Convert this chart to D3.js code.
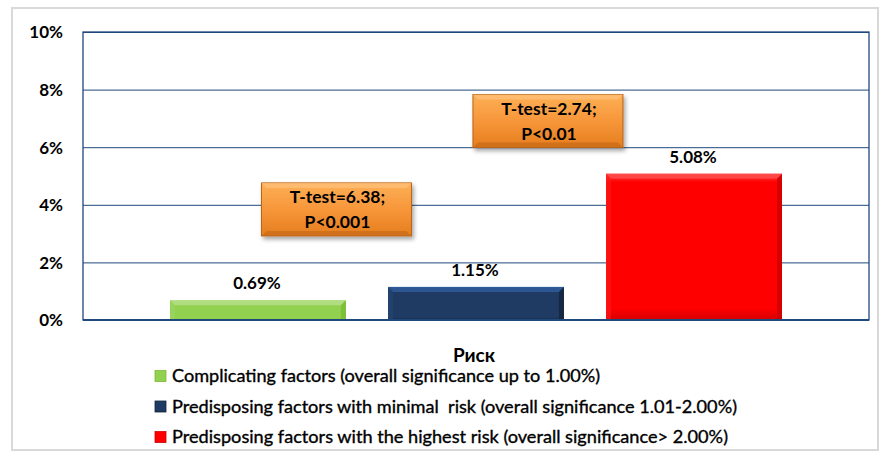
<!DOCTYPE html>
<html><head><meta charset="utf-8">
<script src="https://cdn.jsdelivr.net/npm/d3@7"></script>
<style>
body{margin:0;background:#fff;}
svg{display:block;font-family:Lato,"Open Sans",sans-serif;}
</style></head>
<body>
<svg id="chart" width="890" height="463"></svg>
<script>
const category = "Риск";
const series = [
  "Complicating factors (overall significance up to 1.00%)",
  "Predisposing factors with minimal  risk (overall significance 1.01-2.00%)",
  "Predisposing factors with the highest risk (overall significance> 2.00%)"
];
const values = [0.69, 1.15, 5.08];
const valueLabels = ["0.69%", "1.15%", "5.08%"];
const colors = ["#92D050", "#1F3B63", "#FF0000"];
const yTicks = [0, 2, 4, 6, 8, 10];
const annotationLines = [["T-test=6.38;", "P<0.001"], ["T-test=2.74;", "P<0.01"]];
const annotationLevel = [3.84, 6.91];      // vertical centre, in % units
const annotationBetween = [[0, 1], [1, 2]]; // between which bars
const annotationFrac = [0.36, 0.33];        // fraction of the way from first bar to second

const svg = d3.select("#chart");
const m = {left: 83, right: 869, top: 32, bottom: 320};

svg.append("rect").attr("x", 12).attr("y", 8).attr("width", 866).attr("height", 442)
  .attr("fill", "#fff").attr("stroke", "#d9d9d9").attr("stroke-width", 2);

const defs = svg.append("defs");
function shade(c, k){ const h = d3.hsl(c); h.l = Math.max(0, Math.min(1, h.l + k)); return h.formatHex(); }
colors.forEach((c, i) => {
  const g = defs.append("linearGradient").attr("id", "g" + i).attr("x1", 0).attr("y1", 0).attr("x2", 0).attr("y2", 1);
  g.append("stop").attr("offset", 0).attr("stop-color", shade(c, 0.12));
  g.append("stop").attr("offset", 0.06).attr("stop-color", c);
  g.append("stop").attr("offset", 0.92).attr("stop-color", c);
  g.append("stop").attr("offset", 1).attr("stop-color", shade(c, -0.08));
});
const og = defs.append("linearGradient").attr("id", "og").attr("x1", 0).attr("y1", 0).attr("x2", 0).attr("y2", 1);
og.append("stop").attr("offset", 0).attr("stop-color", "#FDB057");
og.append("stop").attr("offset", 0.5).attr("stop-color", "#F7963A");
og.append("stop").attr("offset", 1).attr("stop-color", "#E57E1E");
const sh = defs.append("filter").attr("id", "sh").attr("x", "-10%").attr("y", "-10%").attr("width", "130%").attr("height", "140%");
sh.append("feDropShadow").attr("dx", 2).attr("dy", 3).attr("stdDeviation", 2).attr("flood-color", "#000").attr("flood-opacity", 0.35);

const y = d3.scaleLinear().domain([0, 10]).range([m.bottom, m.top]);
const x0 = d3.scaleBand().domain([category]).range([m.left, m.right]).paddingOuter(0);
const x1 = d3.scaleBand().domain(series).range([x0(category) + 87, x0(category) + x0.bandwidth() - 87]).paddingInner(0.193);

svg.append("g").attr("transform", `translate(${m.left},0)`)
  .call(d3.axisLeft(y).tickValues(yTicks).tickSize(-(m.right - m.left)).tickFormat(""))
  .call(g => g.select(".domain").remove())
  .call(g => g.selectAll("line").attr("stroke", "#1F497D").attr("stroke-width", 1));
svg.append("rect").attr("x", m.left).attr("y", m.top).attr("width", m.right - m.left).attr("height", m.bottom - m.top)
  .attr("fill", "none").attr("stroke", "#1F497D").attr("stroke-width", 1.3);

svg.append("g").attr("transform", `translate(${m.left - 20},0)`)
  .call(d3.axisLeft(y).tickValues(yTicks).tickSize(0).tickFormat(d => d + "%"))
  .call(g => g.select(".domain").remove())
  .call(g => g.selectAll("text").attr("font-family", "Lato, sans-serif").attr("font-size", 17)
    .attr("font-weight", "bold").attr("fill", "#000").attr("x", 0).attr("dy", "0.35em"));

const bars = svg.append("g");
series.forEach((s, i) => {
  const bx = x1(s), bw = x1.bandwidth(), by = y(values[i]), bh = y(0) - y(values[i]);
  bars.append("rect").attr("x", bx).attr("y", by).attr("width", bw).attr("height", bh).attr("fill", `url(#g${i})`);
  const e = Math.min(5, bh / 3);
  bars.append("path").attr("d", `M${bx},${by}L${bx + bw},${by}L${bx + bw - e},${by + e}L${bx + e},${by + e}Z`).attr("fill", shade(colors[i], 0.15)).attr("opacity", 0.8);
  bars.append("path").attr("d", `M${bx + bw},${by}L${bx + bw},${by + bh}L${bx + bw - e},${by + bh}L${bx + bw - e},${by + e}Z`).attr("fill", shade(colors[i], -0.1)).attr("opacity", 0.8);
  bars.append("path").attr("d", `M${bx},${by}L${bx + e},${by + e}L${bx + e},${by + bh}L${bx},${by + bh}Z`).attr("fill", shade(colors[i], 0.05)).attr("opacity", 0.6);
  svg.append("text").attr("x", bx + bw / 2 - 1).attr("y", by - 17).attr("text-anchor", "middle")
    .attr("dy", "0.35em").attr("font-size", 17).attr("font-weight", "bold").attr("fill", "#000").text(valueLabels[i]);
});
svg.append("line").attr("x1", m.left).attr("x2", m.right).attr("y1", y(0)).attr("y2", y(0)).attr("stroke", "#1F497D").attr("stroke-width", 2);

annotationLines.forEach((lines, j) => {
  const [a, b] = annotationBetween[j];
  const ca = x1(series[a]) + x1.bandwidth() / 2, cb = x1(series[b]) + x1.bandwidth() / 2;
  const cx = ca + (cb - ca) * annotationFrac[j];
  const bw = 150, bh = 53;
  const bx = cx - bw / 2, by = y(annotationLevel[j]) - bh / 2;
  const g = svg.append("g");
  g.append("rect").attr("x", bx).attr("y", by).attr("width", bw).attr("height", bh).attr("fill", "url(#og)")
    .attr("stroke", "#B86414").attr("stroke-width", 1).attr("filter", "url(#sh)");
  g.append("path").attr("d", `M${bx},${by}L${bx + bw},${by}L${bx + bw - 5},${by + 5}L${bx + 5},${by + 5}Z`).attr("fill", "#FFC07A").attr("opacity", 0.7);
  g.append("path").attr("d", `M${bx},${by + bh}L${bx + bw},${by + bh}L${bx + bw - 5},${by + bh - 5}L${bx + 5},${by + bh - 5}Z`).attr("fill", "#C86A18").attr("opacity", 0.7);
  lines.forEach((t, k) => {
    g.append("text").attr("x", bx + bw / 2 + 1).attr("y", by + 14 + k * 25).attr("dy", "0.35em").attr("text-anchor", "middle")
      .attr("font-size", 17.5).attr("font-weight", "bold").attr("fill", "#000").text(t);
  });
});

svg.append("text").attr("x", (m.left + m.right) / 2 - 2).attr("y", 355).attr("dy", "0.35em").attr("text-anchor", "middle")
  .attr("font-size", 19).attr("font-weight", "bold").attr("fill", "#000").text(category);

const legendWidths = [428, 565, 556];
const leg = svg.append("g");
series.forEach((s, i) => {
  const ly = 376 + i * 30.5;
  leg.append("rect").attr("x", 155).attr("y", ly - 5.5).attr("width", 11).attr("height", 11).attr("fill", `url(#g${i})`)
    .attr("stroke", shade(colors[i], -0.1)).attr("stroke-width", 0.8);
  leg.append("text").attr("x", 172).attr("y", ly).attr("dy", "0.35em").attr("font-size", 17.5).attr("fill", "#000")
    .attr("stroke", "#000").attr("stroke-width", 0.35)
    .attr("textLength", legendWidths[i]).attr("lengthAdjust", "spacingAndGlyphs")
    .style("white-space", "pre").text(s);
});
</script>
</body></html>
